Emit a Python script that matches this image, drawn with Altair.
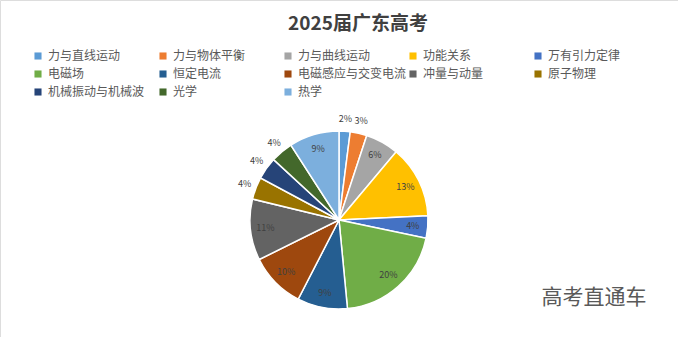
import altair as alt
import pandas as pd

categories = ["力与直线运动", "力与物体平衡", "力与曲线运动", "功能关系", "万有引力定律",
              "电磁场", "恒定电流", "电磁感应与交变电流", "冲量与动量", "原子物理",
              "机械振动与机械波", "光学", "热学"]
percents = [2, 3, 6, 13, 4, 20, 9, 10, 11, 4, 4, 4, 9]
colors = ["#5B9BD5", "#ED7D31", "#A5A5A5", "#FFC000", "#4472C4", "#70AD47",
          "#255E91", "#9E480E", "#636363", "#997300", "#264478", "#43682B", "#7CAFDD"]
label_outside = [True, True, False, False, False, False, False, False, False, True, True, True, False]

total = sum(percents)
cum = pd.Series(percents).cumsum()
df = pd.DataFrame({
    "cat": categories,
    "pct": percents,
    "idx": list(range(len(categories))),
    "start": (cum - pd.Series(percents)).tolist(),
    "end": cum.tolist(),
    "label": [f"{p}%" for p in percents],
    "lr": [101 if o else 74 for o in label_outside],
})
df["mid"] = (df["start"] + df["end"]) / 2

W, H = 678, 337
CX, CY, R = 339, 220, 89
FONT = "Noto Sans CJK SC"

color_scale = alt.Scale(domain=categories, range=colors)
theta_scale = alt.Scale(domain=[0, total], range=[0, 6.283185307179586])

base = alt.Chart(df)

pie = base.mark_arc(radius=R, stroke="white", strokeWidth=1.5).encode(
    x=alt.value(CX), y=alt.value(CY),
    theta=alt.Theta("start:Q", scale=theta_scale, stack=None),
    theta2="end:Q",
    color=alt.Color("cat:N", scale=color_scale, sort=categories,
                    legend=alt.Legend(title=None, orient="none", legendX=32, legendY=50,
                                      columns=5, direction="horizontal", gridAlign="all",
                                      symbolType="square", symbolSize=50,
                                      symbolStrokeWidth=0,
                                      labelFont=FONT, labelFontSize=12, labelColor="#595959",
                                      labelLimit=200, columnPadding=-2, rowPadding=6,
                                      labelOffset=4)),
)

labels = base.mark_text(font=FONT, fontSize=9, color="#404040").encode(
    x=alt.value(CX), y=alt.value(CY),
    theta=alt.Theta("mid:Q", scale=theta_scale, stack=None),
    radius=alt.Radius("lr:Q", scale=None),
    text="label:N",
)

title = alt.Chart(pd.DataFrame({"t": ["2025届广东高考"]})).mark_text(
    font=FONT, fontSize=19, fontWeight="bold", color="#404040"
).encode(x=alt.value(358), y=alt.value(24), text="t:N")

mark = alt.Chart(pd.DataFrame({"t": ["高考直通车"]})).mark_text(
    font=FONT, fontSize=21, color="#595959"
).encode(x=alt.value(594), y=alt.value(298), text="t:N")

chart = alt.layer(pie, labels, title, mark).properties(
    width=W, height=H, padding=0,
    autosize=alt.AutoSizeParams(type="none"),
).configure_view(stroke="#d9d9d9").configure(background="white")

chart.save("out.html", embed_options={"renderer": "svg", "actions": False})
